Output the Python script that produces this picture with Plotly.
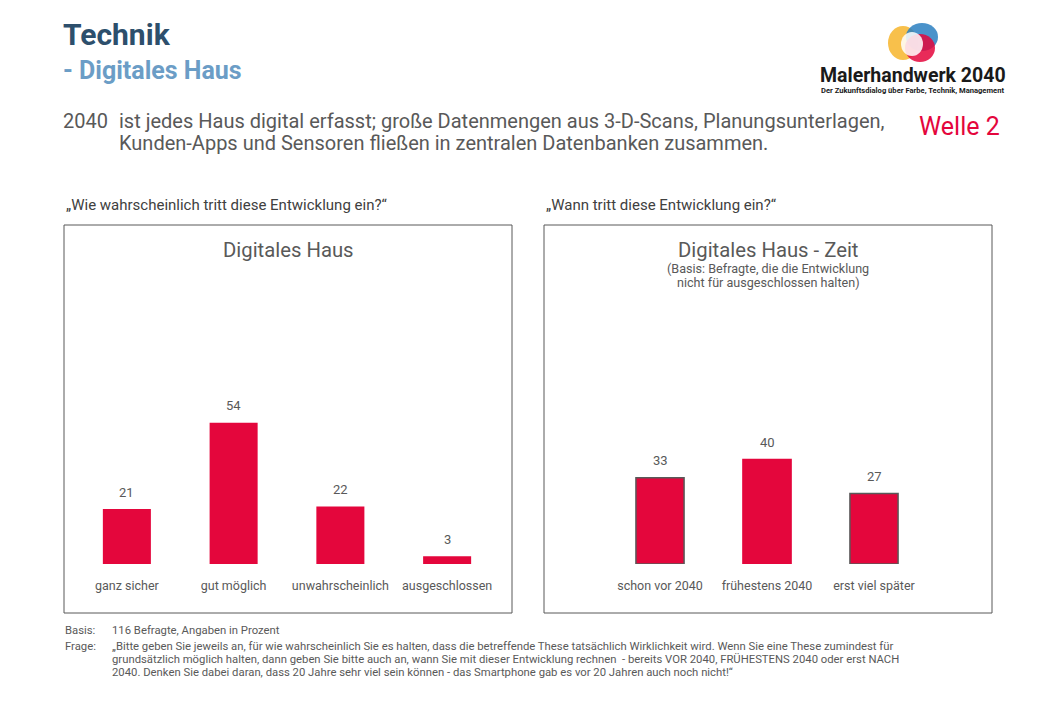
import plotly.graph_objects as go

# data
cats_wahrsch = ["ganz sicher", "gut möglich", "unwahrscheinlich", "ausgeschlossen"]
vals_wahrsch = [21, 54, 22, 3]

cats_zeit = ["schon vor 2040", "frühestens 2040", "erst viel später"]
vals_zeit = [33, 40, 27]
outline_zeit = ["#595959", "#e4063c", "#595959"]

RED = "#e4063c"
GREY = "#595959"
FONT = "Roboto"
W, H = 1040, 720
OFF = 8  # page body margin


def px(x):
    return (x - OFF) / W


def py(y):
    return 1 - (y - OFF) / H


fig = go.Figure()

fig.add_trace(go.Bar(
    x=cats_wahrsch, y=vals_wahrsch, width=0.45,
    marker=dict(color=RED, line=dict(width=0)),
    xaxis="x", yaxis="y", hoverinfo="skip"
))
fig.add_trace(go.Bar(
    x=cats_zeit, y=vals_zeit, width=0.45,
    marker=dict(color=RED, line=dict(color=outline_zeit, width=1.5)),
    xaxis="x2", yaxis="y2", hoverinfo="skip"
))

# value labels above the bars
for c, v in zip(cats_wahrsch, vals_wahrsch):
    fig.add_annotation(x=c, y=v, xref="x", yref="y", text=str(v), showarrow=False,
                       yshift=17, font=dict(family=FONT, size=13, color=GREY))
for c, v in zip(cats_zeit, vals_zeit):
    fig.add_annotation(x=c, y=v, xref="x2", yref="y2", text=str(v), showarrow=False,
                       yshift=17, font=dict(family=FONT, size=13, color=GREY))

ymax = 101
axis_x = dict(showgrid=False, zeroline=False, showline=False, ticks="",
              tickfont=dict(family=FONT, size=12.5, color=GREY), ticklabelstandoff=12,
              fixedrange=True)
axis_y = dict(range=[0, ymax], visible=False, fixedrange=True)

fig.update_layout(
    width=W, height=H,
    margin=dict(l=0, r=0, t=0, b=0),
    paper_bgcolor="white", plot_bgcolor="rgba(0,0,0,0)",
    showlegend=False, bargap=0.55,
    xaxis=dict(domain=[px(73.5), px(500.5)], anchor="y", **axis_x),
    yaxis=dict(domain=[py(564), py(300)], anchor="x", **axis_y),
    xaxis2=dict(domain=[px(606.5), px(927.5)], anchor="y2", **axis_x),
    yaxis2=dict(domain=[py(564), py(300)], anchor="x2", **axis_y),
)

# panel frames
for x0, x1 in [(64, 512), (544, 992)]:
    fig.add_shape(type="rect", xref="paper", yref="paper",
                  x0=px(x0), x1=px(x1), y0=py(613), y1=py(225),
                  line=dict(color=GREY, width=1), fillcolor="rgba(0,0,0,0)")


def txt(x, y, s, size, color=GREY, xanchor="left", family=FONT, align="left", bold=False):
    if bold:
        s = "<b>" + s + "</b>"
    fig.add_annotation(x=px(x), y=py(y), xref="paper", yref="paper", text=s,
                       showarrow=False, xanchor=xanchor, yanchor="middle", align=align,
                       font=dict(family=family, size=size, color=color))


# header
txt(61, 35, "Technik", 30, color="#2d4f6c", bold=True)
txt(61, 70, "- Digitales Haus", 25, color="#6b9dc6", bold=True)
txt(61, 121, "2040", 20)
txt(117, 121, "ist jedes Haus digital erfasst; große Datenmengen aus 3-D-Scans, Planungsunterlagen,", 20)
txt(117, 143, "Kunden-Apps und Sensoren fließen in zentralen Datenbanken zusammen.", 20)
txt(1002, 127, "Welle 2", 25, color="#e4063c", xanchor="right")

# question headings
txt(64, 205, "„Wie wahrscheinlich tritt diese Entwicklung ein?“", 15, color="#404040")
txt(544, 205, "„Wann tritt diese Entwicklung ein?“", 15, color="#404040")

# panel titles
txt(288, 250, "Digitales Haus", 20.3, xanchor="center")
txt(768, 250, "Digitales Haus - Zeit", 20.3, xanchor="center")
txt(768, 268, "(Basis: Befragte, die die Entwicklung", 12.6, xanchor="center")
txt(768, 282, "nicht für ausgeschlossen halten)", 12.6, xanchor="center")

# footer
txt(63, 630, "Basis:", 11.3)
txt(110, 630, "116 Befragte, Angaben in Prozent", 11.3)
txt(63, 646, "Frage:", 11.3)
frage = [
    "„Bitte geben Sie jeweils an, für wie wahrscheinlich Sie es halten, dass die betreffende These tatsächlich Wirklichkeit wird. Wenn Sie eine These zumindest für",
    "grundsätzlich möglich halten, dann geben Sie bitte auch an, wann Sie mit dieser Entwicklung rechnen  - bereits VOR 2040, FRÜHESTENS 2040 oder erst NACH",
    "2040. Denken Sie dabei daran, dass 20 Jahre sehr viel sein können - das Smartphone gab es vor 20 Jahren auch noch nicht!“",
]
for i, line in enumerate(frage):
    txt(110, 646 + 13 * i, line, 11.3)

# logo
for (cx, cy, rx, ry, col) in [(903, 43, 15, 17, "#f7b52c"), (922, 37, 16, 14, "#2a7fc1"),
                             (920, 48, 15, 14, "#e4063c"), (912, 44, 11, 12, "white")]:
    fig.add_shape(type="circle", xref="paper", yref="paper",
                  x0=px(cx - rx), x1=px(cx + rx), y0=py(cy + ry), y1=py(cy - ry),
                  fillcolor=col, line=dict(width=0), opacity=0.85)
txt(913, 75, "Malerhandwerk 2040", 19.5, color="#1a1a1a", xanchor="center", bold=True)
txt(912, 90, "Der Zukunftsdialog über Farbe, Technik, Management", 7.6, color="#1a1a1a",
    xanchor="center", bold=True)

fig.write_html("out.html")
